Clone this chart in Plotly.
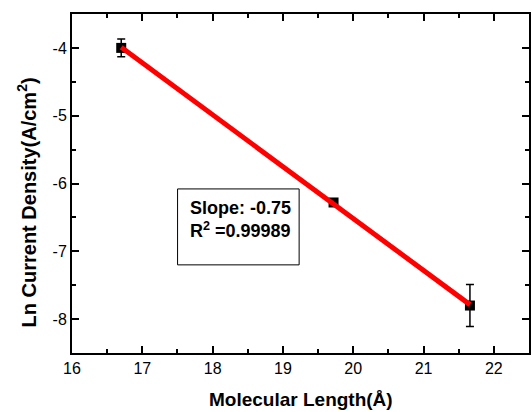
import numpy as np
import plotly.graph_objects as go

# Data
molecular_length = [16.70, 19.72, 21.66]
ln_current = [-4.00, -6.28, -7.80]
ln_current_err = [0.13, 0.05, 0.31]

# linear fit through the data
slope, intercept = np.polyfit(molecular_length, ln_current, 1)
fit_x = [min(molecular_length), max(molecular_length)]
fit_y = [slope * v + intercept for v in fit_x]

x_ticks = [16, 17, 18, 19, 20, 21, 22]
y_ticks = [-8, -7, -6, -5, -4]

fig = go.Figure()
fig.add_trace(go.Scatter(
    x=molecular_length, y=ln_current, mode="markers",
    marker=dict(symbol="square", size=10, color="black"),
    error_y=dict(type="data", array=ln_current_err, visible=True,
                 color="black", thickness=1.5, width=4),
    showlegend=False,
))
fig.add_trace(go.Scatter(
    x=fit_x, y=fit_y, mode="lines",
    line=dict(color="#ff0000", width=5),
    showlegend=False,
))

axis_common = dict(
    showgrid=False, zeroline=False,
    showline=True, linecolor="black", linewidth=2,
    mirror="allticks", ticks="inside", ticklen=7, tickwidth=2, tickcolor="black",
    tickfont=dict(family="Liberation Sans, Arial", size=16, color="black"),
)

fig.update_xaxes(
    range=[16, 22.5], tickvals=x_ticks, ticktext=[str(v) for v in x_ticks],
    minor=dict(dtick=0.5, ticks="inside", ticklen=4, tickwidth=2, tickcolor="black"),
    **axis_common,
)
fig.update_yaxes(
    range=[-8.5, -3.5], tickvals=y_ticks, ticktext=[str(v) for v in y_ticks],
    minor=dict(dtick=0.5, ticks="inside", ticklen=4, tickwidth=2, tickcolor="black"),
    **axis_common,
)

fam = "Liberation Sans, Arial"

fig.update_layout(
    width=532, height=412,
    margin=dict(l=72, r=1, t=14, b=59),
    paper_bgcolor="white", plot_bgcolor="white",
    shapes=[dict(type="rect", xref="paper", yref="paper",
                 x0=0.231, x1=0.497, y0=0.26, y1=0.484,
                 line=dict(color="black", width=1), fillcolor="rgba(0,0,0,0)")],
    annotations=[
        dict(text="<b>Slope: -0.75</b><br><b>R<sup>2</sup> =0.99989</b>",
             xref="paper", yref="paper", align="left",
             x=0.253, y=0.463, xanchor="left", yanchor="top",
             showarrow=False, font=dict(family=fam, size=18, color="black")),
        dict(text="<b>Molecular Length(Å)</b>", xref="paper", yref="paper",
             x=0.5, y=-0.138, xanchor="center", yanchor="middle",
             showarrow=False, font=dict(family=fam, size=19, color="black")),
        dict(text="<b>Ln Current Density(A/cm<sup>2</sup>)</b>", xref="paper", yref="paper",
             x=-0.1, y=0.445, xanchor="center", yanchor="middle", textangle=-90,
             showarrow=False, font=dict(family=fam, size=20, color="black")),
    ],
)

fig.write_html("out.html")
